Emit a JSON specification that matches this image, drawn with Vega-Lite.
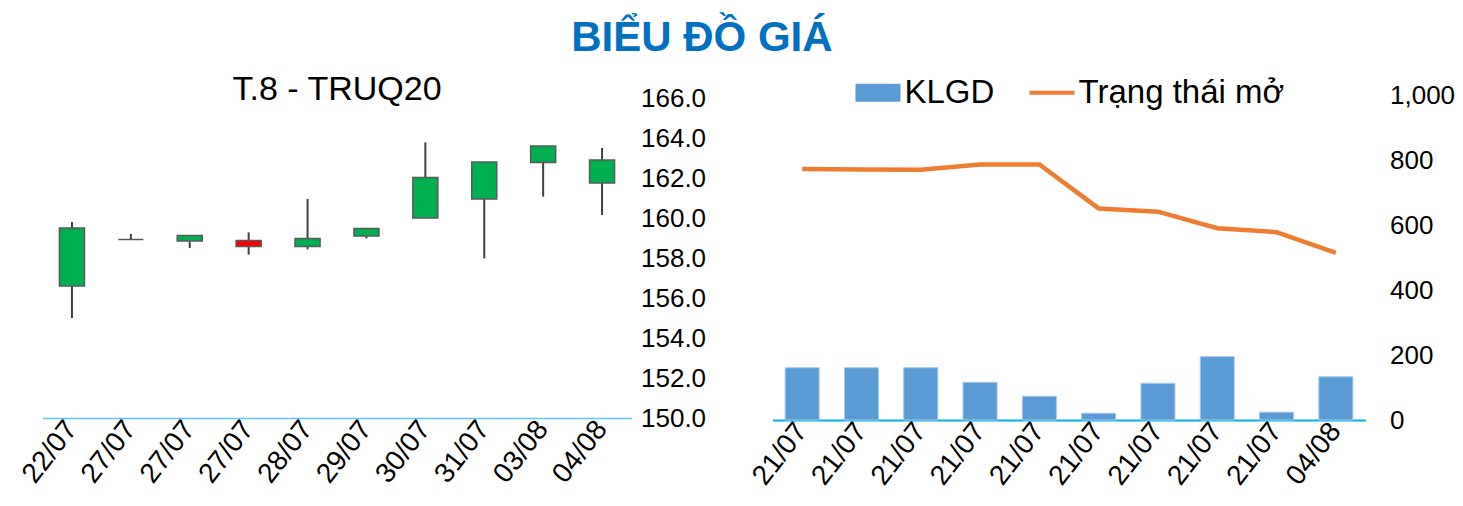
{
  "$schema": "https://vega.github.io/schema/vega-lite/v6.json",
  "background": "white",
  "padding": {"left": 16.5, "top": 16, "right": 5, "bottom": 5},
  "config": {"font": "Liberation Sans", "view": {"stroke": null}},
  "title": {"text": "BIỂU ĐỒ GIÁ", "fontSize": 42, "fontWeight": "bold", "color": "#0070C0", "anchor": "middle", "font": "Liberation Sans", "offset": 13.5, "dx": -34},
  "bounds": "flush",
  "spacing": 141,
  "resolve": {"scale": {"color": "independent"}, "legend": {"color": "independent"}},
  "datasets": {
    "candles": [
      {"key": "22/07#1", "open": 156.6, "close": 159.5, "high": 159.8, "low": 155.0, "dir": "up"},
      {"key": "27/07#2", "open": 158.92, "close": 158.92, "high": 159.2, "low": 158.9, "dir": "up"},
      {"key": "27/07#3", "open": 158.85, "close": 159.13, "high": 159.15, "low": 158.5, "dir": "up"},
      {"key": "27/07#4", "open": 158.87, "close": 158.58, "high": 159.28, "low": 158.17, "dir": "down"},
      {"key": "28/07#5", "open": 158.58, "close": 158.97, "high": 160.95, "low": 158.43, "dir": "up"},
      {"key": "29/07#6", "open": 159.1, "close": 159.48, "high": 159.48, "low": 158.98, "dir": "up"},
      {"key": "30/07#7", "open": 160.0, "close": 162.02, "high": 163.78, "low": 160.0, "dir": "up"},
      {"key": "31/07#8", "open": 160.95, "close": 162.8, "high": 162.8, "low": 157.98, "dir": "up"},
      {"key": "03/08#9", "open": 162.77, "close": 163.6, "high": 163.6, "low": 161.07, "dir": "up"},
      {"key": "04/08#10", "open": 161.75, "close": 162.9, "high": 163.5, "low": 160.15, "dir": "up"}
    ],
    "vol": [
      {"key": "21/07#1", "klgd": 161, "oi": 772},
      {"key": "21/07#2", "klgd": 161, "oi": 771},
      {"key": "21/07#3", "klgd": 161, "oi": 770},
      {"key": "21/07#4", "klgd": 116, "oi": 786},
      {"key": "21/07#5", "klgd": 73, "oi": 786},
      {"key": "21/07#6", "klgd": 21, "oi": 651},
      {"key": "21/07#7", "klgd": 113, "oi": 641},
      {"key": "21/07#8", "klgd": 195, "oi": 590},
      {"key": "21/07#9", "klgd": 24, "oi": 578},
      {"key": "04/08#10", "klgd": 133, "oi": 514}
    ]
  },
  "hconcat": [
    {
      "width": 589,
      "height": 323,
      "data": {"name": "candles"},
      "title": {"text": "T.8 - TRUQ20", "fontSize": 34, "fontWeight": "normal", "color": "#000000", "offset": -22},
      "encoding": {
        "x": {
          "field": "key", "type": "nominal", "sort": null,
          "scale": {"paddingInner": 0.575, "paddingOuter": 0.2875},
          "axis": {"title": null, "labelExpr": "split(datum.label, '#')[0]", "labelAngle": -52, "labelAlign": "right", "labelBaseline": "middle", "labelFontSize": 28, "labelColor": "#000000", "ticks": false, "domainColor": "#5BC8F0", "domainWidth": 1.5, "labelPadding": 6, "grid": false}
        }
      },
      "layer": [
        {
          "mark": {"type": "rule", "color": "#404040", "strokeWidth": 2},
          "encoding": {
            "y": {"field": "low", "type": "quantitative", "scale": {"domain": [150, 166.15], "nice": false, "zero": false},
              "axis": {"orient": "right", "title": null, "values": [150, 152, 154, 156, 158, 160, 162, 164, 166], "format": ".1f", "labelFontSize": 26, "labelColor": "#000000", "ticks": false, "domain": false, "grid": false, "labelPadding": 9}},
            "y2": {"field": "high"}
          }
        },
        {
          "mark": {"type": "bar", "stroke": "#595959", "strokeWidth": 1.5},
          "encoding": {
            "y": {"field": "open", "type": "quantitative"},
            "y2": {"field": "close"},
            "color": {"field": "dir", "type": "nominal", "scale": {"domain": ["up", "down"], "range": ["#00B050", "#FF0000"]}, "legend": null}
          }
        }
      ]
    },
    {
      "width": 593,
      "height": 325,
      "data": {"name": "vol"},
      "encoding": {
        "x": {
          "field": "key", "type": "nominal", "sort": null,
          "scale": {"paddingInner": 0.426, "paddingOuter": 0.213},
          "axis": {"title": null, "labelExpr": "split(datum.label, '#')[0]", "labelAngle": -52, "labelAlign": "right", "labelBaseline": "middle", "labelFontSize": 28, "labelColor": "#000000", "ticks": false, "domainColor": "#00B0F0", "domainWidth": 2, "labelPadding": 6, "grid": false}
        }
      },
      "layer": [
        {
          "mark": {"type": "bar", "stroke": "#A9C8EA", "strokeWidth": 1},
          "encoding": {
            "y": {"field": "klgd", "type": "quantitative", "scale": {"domain": [0, 1000], "nice": false},
              "axis": {"orient": "right", "title": null, "values": [0, 200, 400, 600, 800, 1000], "format": ",.0f", "labelFontSize": 26, "labelColor": "#000000", "ticks": false, "domain": false, "grid": false, "labelPadding": 24}},
            "color": {
              "datum": "KLGD", "type": "nominal",
              "scale": {"domain": ["KLGD", "Trạng thái mở"], "range": ["#5B9BD5", "#ED7D31"]},
              "legend": {
                "orient": "none", "legendX": 89, "legendY": -19, "direction": "horizontal", "title": null,
                "labelFontSize": 33, "labelColor": "#000000", "labelLimit": 400, "symbolSize": 2025,
                "symbolType": {"expr": "datum.value === 'KLGD' ? 'M-1,-0.4H1V0.4H-1Z' : 'stroke'"},
                "symbolStrokeWidth": {"expr": "datum.value === 'KLGD' ? 0 : 4"},
                "symbolStrokeColor": {"expr": "datum.value === 'KLGD' ? '#5B9BD5' : '#ED7D31'"},
                "symbolOpacity": 1,
                "columnPadding": 27, "labelOffset": 10
              }
            }
          }
        },
        {
          "mark": {"type": "line", "strokeWidth": 4.5},
          "encoding": {
            "y": {"field": "oi", "type": "quantitative"},
            "color": {"datum": "Trạng thái mở", "type": "nominal"}
          }
        }
      ]
    }
  ]
}
